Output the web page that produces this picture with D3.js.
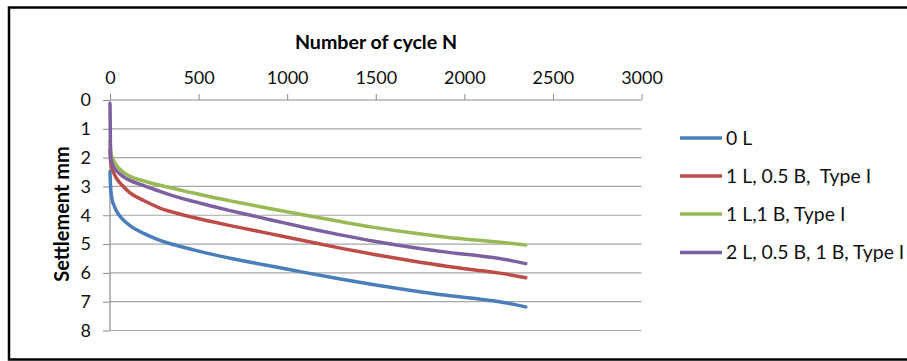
<!DOCTYPE html>
<html>
<head>
<meta charset="utf-8">
<script src="https://cdn.jsdelivr.net/npm/d3@7"></script>
<style>
  html, body { margin: 0; padding: 0; background: #fff; }
  svg { display: block; font-family: Lato, "Open Sans", sans-serif; }
</style>
</head>
<body>
<svg id="chart" width="907" height="361"></svg>
<script>
// ---- data ----
const cycles = [0, 3, 10, 20, 40, 75, 115, 190, 282, 377, 471, 565, 678, 800, 922, 1111, 1300, 1500, 1700, 1900, 2100, 2190, 2347];
const s0L    = [2.48, 3.0, 3.4, 3.62, 3.89, 4.16, 4.37, 4.63, 4.87, 5.05, 5.2, 5.34, 5.49, 5.64, 5.78, 6.0, 6.21, 6.42, 6.61, 6.78, 6.92, 6.99, 7.18];
const s1L05B = [1.72, 2.1, 2.35, 2.52, 2.75, 3.0, 3.23, 3.49, 3.75, 3.93, 4.08, 4.21, 4.36, 4.51, 4.665, 4.905, 5.14, 5.37, 5.58, 5.77, 5.93, 6.0, 6.17];
const s1L1B  = [1.42, 1.7, 1.95, 2.1, 2.3, 2.5, 2.66, 2.81, 2.96, 3.1, 3.23, 3.36, 3.5, 3.645, 3.79, 4.01, 4.22, 4.43, 4.61, 4.76, 4.88, 4.93, 5.03];
const s2L    = [0.12, 1.95, 2.18, 2.32, 2.48, 2.66, 2.8, 2.97, 3.17, 3.36, 3.52, 3.67, 3.84, 4.01, 4.18, 4.44, 4.68, 4.91, 5.11, 5.28, 5.42, 5.49, 5.68];
const seriesNames = ["0 L", "1 L, 0.5 B,  Type I", "1 L,1 B, Type I", "2 L, 0.5 B, 1 B, Type I"];
const seriesColors = ["#4a7ebb", "#be4b48", "#98b954", "#7d60a0"];
const xTicks = [0, 500, 1000, 1500, 2000, 2500, 3000];
const yTicks = [0, 1, 2, 3, 4, 5, 6, 7, 8];
const xTitle = "Number of cycle N";
const yTitle = "Settlement mm";

const seriesValues = [s0L, s1L05B, s1L1B, s2L];

// ---- layout ----
const svg = d3.select("#chart");
const plot = { left: 110, right: 641.5, top: 100, bottom: 330.5 };

const x = d3.scaleLinear().domain([0, 3000]).range([plot.left, plot.right]);
const y = d3.scaleLinear().domain([0, 8]).range([plot.top, plot.bottom]);

// outer frame
svg.append("rect")
  .attr("x", 9).attr("y", 7.5)
  .attr("width", 910).attr("height", 352)
  .attr("fill", "#fff").attr("stroke", "#000").attr("stroke-width", 2.5);

// gridlines
svg.append("g").selectAll("line").data(yTicks.slice(1)).join("line")
  .attr("x1", plot.left).attr("x2", plot.right)
  .attr("y1", d => y(d)).attr("y2", d => y(d))
  .attr("stroke", "#a6a6a6").attr("stroke-width", 1.2);

// x axis (top)
const xAxis = d3.axisTop(x).tickValues(xTicks).tickSize(6).tickPadding(10).tickFormat(d3.format("d"));
const gx = svg.append("g").attr("transform", `translate(0,${plot.top})`).call(xAxis);
gx.select(".domain").attr("stroke", "#8c8c8c").attr("stroke-width", 1.2).attr("d", `M${plot.left},0H${plot.right}`);
gx.selectAll(".tick line").attr("stroke", "#8c8c8c");
gx.selectAll(".tick text").attr("font-size", 18).attr("fill", "#111").attr("font-family", "Lato");

// y axis (left)
const yAxis = d3.axisLeft(y).tickValues(yTicks).tickSize(7).tickPadding(12).tickFormat(d3.format("d"));
const gy = svg.append("g").attr("transform", `translate(${plot.left},0)`).call(yAxis);
gy.select(".domain").attr("stroke", "#8c8c8c").attr("stroke-width", 1.2).attr("d", `M0,${plot.top}V${plot.bottom}`);
gy.selectAll(".tick line").attr("stroke", "#8c8c8c");
gy.selectAll(".tick text").attr("font-size", 18).attr("fill", "#111").attr("font-family", "Lato");

// titles
svg.append("text")
  .attr("x", 376).attr("y", 49)
  .attr("text-anchor", "middle")
  .attr("font-size", 19.6).attr("font-weight", "bold").attr("fill", "#000")
  .text(xTitle);

svg.append("text")
  .attr("transform", `translate(69,214) rotate(-90)`)
  .attr("text-anchor", "middle")
  .attr("font-size", 20).attr("font-weight", "bold").attr("fill", "#000")
  .text(yTitle);

// lines
const line = d3.line()
  .x((d, i) => x(cycles[i]))
  .y(d => y(d))
  .curve(d3.curveMonotoneX);

svg.append("g").selectAll("path").data(seriesValues).join("path")
  .attr("d", d => line(d))
  .attr("fill", "none")
  .attr("stroke", (d, i) => seriesColors[i])
  .attr("stroke-width", 3.5)
  .attr("stroke-linecap", "round")
  .attr("stroke-linejoin", "round");

// legend
const legendY = [138, 176, 214, 252.5];
const lg = svg.append("g").selectAll("g").data(seriesNames).join("g")
  .attr("transform", (d, i) => `translate(680,${legendY[i]})`);
lg.append("line")
  .attr("x1", 0).attr("x2", 42).attr("y1", 0).attr("y2", 0)
  .attr("stroke", (d, i) => seriesColors[i]).attr("stroke-width", 3.5);
lg.append("text")
  .attr("x", 46).attr("y", 0).attr("dy", "0.35em")
  .attr("font-size", 19.4).attr("fill", "#111")
  .attr("xml:space", "preserve")
  .style("white-space", "pre")
  .text(d => d);
</script>
</body>
</html>
